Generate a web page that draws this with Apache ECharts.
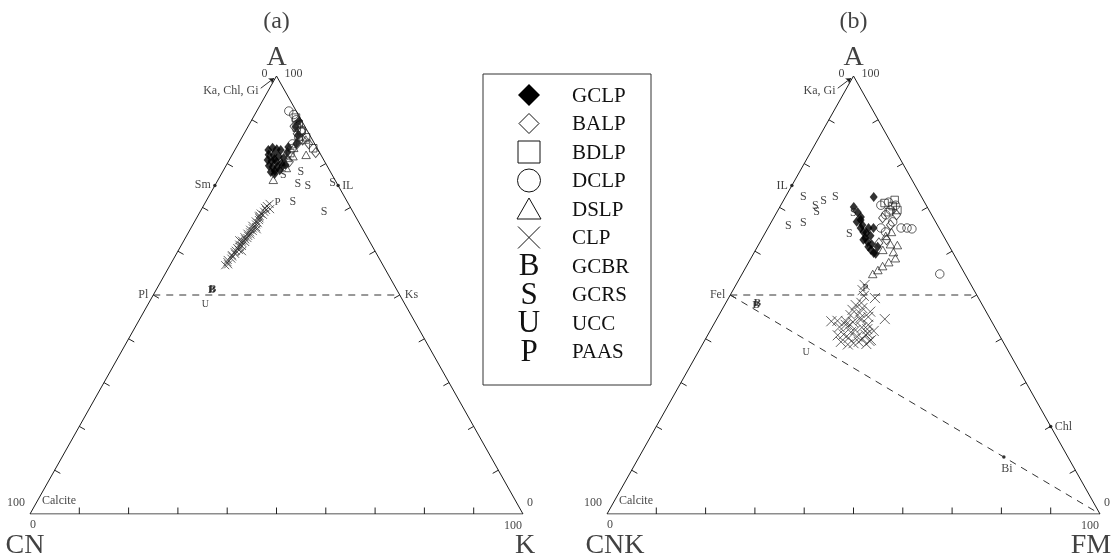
<!DOCTYPE html>
<html>
<head>
<meta charset="utf-8">
<script src="https://cdn.jsdelivr.net/npm/echarts@6/dist/echarts.min.js"></script>
<style>
  html, body { margin: 0; padding: 0; background: #fff; }
  #chart { width: 1120px; height: 555px; }
</style>
</head>
<body>
<div id="chart"></div>
<script>
// Compositions in percent. Plot (a): [A, CN, K]; plot (b): [A, CNK, FM].

// ---- (a) A–CN–K ----
const gclpA = [[83.1,10.1,6.8],[83.6,9.0,7.4],[83.3,8.3,8.4],[83.1,7.6,9.3],[82.0,10.6,7.4],[82.0,9.6,8.4],[81.7,8.7,9.6],[81.3,7.9,10.8],[80.8,11.4,7.8],[80.6,10.7,8.7],[80.4,9.8,9.8],[80.1,8.9,11.0],[79.5,11.8,8.7],[79.2,11.2,9.6],[79.2,10.2,10.6],[79.5,9.0,11.5],[78.1,12.1,9.8],[78.3,11.2,10.5],[78.5,10.1,11.4],[79.7,8.3,12.0],[88.4,1.9,9.7],[86.5,2.4,11.1],[89.7,0.6,9.7],[83.8,5.7,10.5],[82.6,6.5,10.9],[81.0,9.9,9.1],[77.6,11.6,10.8],[84.6,3.6,11.8]];
const balpA = [[88.5,2.2,9.3],[86.8,2.4,10.8],[84.5,1.2,14.3],[82.5,0.8,16.7],[84.5,3.6,11.9],[80.4,7.2,12.4],[87.6,1.0,11.4],[85.4,2.0,12.6]];
const bdlpA = [[89.0,1.0,10.0],[87.5,1.2,11.3],[86.0,1.0,13.0],[83.5,0.8,15.7],[90.5,0.8,8.7],[82.4,6.0,11.6],[88.2,1.8,10.0]];
const dclpA = [[92.0,1.5,6.5],[90.0,1.0,9.0],[86.0,2.5,11.5],[84.5,4.5,11.0],[83.4,5.2,11.4],[91.2,0.9,7.9],[87.2,1.4,11.4]];
const dslpA = [[85.5,1.3,13.2],[86.2,2.3,11.5],[80.1,8.3,11.6],[81.3,7.1,11.6],[83.6,4.7,11.7],[79.0,8.5,12.5],[81.7,5.8,12.5],[76.3,12.5,11.2],[82.0,3.0,15.0]];
const clpA = [[57.5,31.2,11.3],[58.0,30.9,11.1],[58.3,30.0,11.7],[58.8,29.6,11.6],[59.1,29.5,11.4],[59.4,28.7,11.9],[59.8,28.6,11.6],[60.1,28.2,11.7],[60.3,27.5,12.2],[60.7,27.6,11.7],[61.0,27.0,12.0],[61.2,26.4,12.4],[61.5,26.8,11.7],[61.9,26.0,12.1],[62.1,25.3,12.6],[62.4,25.8,11.8],[62.7,25.0,12.3],[63.0,24.4,12.6],[63.2,24.9,11.9],[63.5,24.0,12.5],[63.8,23.4,12.8],[64.0,23.9,12.1],[64.3,23.2,12.5],[64.6,22.5,12.9],[64.9,22.9,12.2],[65.2,22.2,12.6],[65.5,21.4,13.1],[65.8,22.0,12.2],[66.1,21.1,12.8],[66.4,20.6,13.0],[66.8,20.8,12.4],[67.1,20.0,12.9],[67.5,19.7,12.8],[67.9,19.6,12.5],[68.3,18.6,13.1],[68.6,18.9,12.5],[69.0,18.0,13.0],[69.4,17.4,13.2],[69.9,17.4,12.7],[70.3,16.8,12.9],[70.8,16.0,13.2],[57.0,31.3,11.7],[56.8,32.0,11.2],[69.6,16.5,13.9],[68.1,19.4,12.5],[65.0,21.5,13.5],[60.0,27.0,13.0],[62.5,26.3,11.2]];
const gcbrA = [[51.1,37.6,11.3],[51.3,37.3,11.4]];
const gcrsA = [[77.4,9.9,12.7],[78.1,6.0,15.9],[75.3,8.0,16.7],[74.9,6.2,18.9],[71.2,11.1,17.7],[68.9,5.9,25.2],[75.6,0.8,23.6]];
const uccA = [[47.9,40.5,11.6]];
const paasA = [[71.2,14.2,14.6]];
// mineral reference points on (a)
const mineralsA = [
  { name: 'Sm', comp: [75, 25, 0] },
  { name: 'IL', comp: [75, 0, 25] },
  { name: 'Pl', comp: [50, 50, 0] },
  { name: 'Ks', comp: [50, 0, 50] }
];

// ---- (b) A–CNK–FM ----
const gclpB = [[72.4,9.7,17.9],[70.1,14.9,15.0],[68.9,14.7,16.4],[65.3,13.3,21.4],[67.1,15.0,17.9],[66.0,15.2,18.8],[64.4,15.8,19.8],[63.0,16.1,20.9],[62.6,16.7,20.7],[62.1,16.1,21.8],[61.0,16.5,22.5],[60.3,16.3,23.4],[59.6,16.1,24.3],[59.4,15.8,24.8],[64.2,15.3,20.5],[65.3,15.9,18.8],[65.3,14.3,20.4],[61.0,14.6,24.4],[66.7,16.0,17.3],[61.6,15.5,22.9],[67.8,14.6,17.6],[63.5,14.8,21.7]];
const balpB = [[67.6,10.3,22.1],[66.0,9.5,24.5],[68.3,7.1,24.6],[62.6,12.0,25.4],[61.9,13.9,24.2]];
const bdlpB = [[71.0,8.2,20.8],[70.3,6.9,22.8],[69.4,6.4,24.2],[68.9,8.4,22.7],[71.7,5.8,22.5]];
const dclpB = [[70.5,9.2,20.3],[71.2,7.3,21.5],[70.5,6.2,23.3],[68.3,9.3,22.4],[66.7,8.7,24.6],[65.3,11.8,22.9],[65.3,7.7,27.0],[65.3,6.5,28.2],[65.1,5.6,29.3],[54.8,5.1,40.1],[64.4,11.3,24.3],[69.4,7.8,22.8]];
const dslpB = [[63.5,11.7,24.8],[61.6,11.7,26.7],[59.8,12.0,28.2],[58.4,12.3,29.3],[57.5,14.1,28.4],[56.6,15.8,27.6],[55.7,17.2,27.1],[54.8,18.7,26.5],[61.4,10.4,28.2],[60.3,13.9,25.8],[64.4,10.1,25.5]];
const clpB = [[45.4,27.9,26.7],[44.3,26.4,29.3],[42.0,28.6,29.4],[40.9,27.1,32.0],[40.2,30.9,28.9],[39.3,29.3,31.4],[39.7,26.6,33.7],[43.2,30.0,26.8],[43.2,25.4,31.4],[39.3,32.9,27.8],[44.1,31.2,24.7],[44.5,21.4,34.1],[49.3,21.0,29.7],[52.3,21.6,26.1],[51.1,22.6,26.3],[47.7,25.7,26.6],[47.0,24.7,28.3],[46.6,26.9,26.5],[41.5,29.8,28.7],[42.6,27.0,30.4],[40.5,29.0,30.5],[41.0,31.5,27.5],[43.8,28.2,28.0],[44.8,26.2,29.0],[45.9,25.8,28.3],[42.2,26.1,31.7],[40.0,28.2,31.8],[39.0,30.5,30.5],[38.8,28.0,33.2],[41.8,25.0,33.2],[43.0,29.5,27.5],[44.0,29.5,26.5],[45.0,24.5,30.5],[46.2,23.5,30.3],[48.2,24.3,27.5],[49.8,23.0,27.2],[38.7,31.8,29.5],[40.8,32.8,26.4],[39.5,27.0,33.5],[42.7,31.5,25.8],[44.0,32.5,23.5],[41.2,26.5,32.3]];
const gcbrB = [[47.7,45.9,6.4],[48.2,45.4,6.4]];
const gcrsB = [[72.4,24.0,3.6],[71.5,20.3,8.2],[72.4,17.5,10.1],[70.3,22.6,7.1],[69.0,23.0,8.0],[65.8,30.3,3.9],[66.4,27.0,6.6],[63.9,18.9,17.2],[68.7,15.7,15.6]];
const uccB = [[37.0,41.1,21.9]];
const paasB = [[51.6,21.8,26.6]];
const mineralsB = [
  { name: 'IL', comp: [75, 25, 0] },
  { name: 'Fel', comp: [50, 50, 0] },
  { name: 'Chl', comp: [20, 0, 80] },
  { name: 'Bi', comp: [13, 13, 74] }
];

// legend entries, in drawing order
const legendNames = ['GCLP', 'BALP', 'BDLP', 'DCLP', 'DSLP', 'CLP', 'GCBR', 'GCRS', 'UCC', 'PAAS'];
const tickSteps = [10, 20, 30, 40, 50, 60, 70, 80, 90];

const FONT = 'Liberation Serif';
const INK = '#111';

// [A, left component, right component] -> cartesian (x along the base, y = A)
function toXY(p) { return [p[2] + p[0] / 2, p[0]]; }

const chart = echarts.init(document.getElementById('chart'), null, { renderer: 'canvas' });

const grids = [
  { left: 30, top: 76, width: 493, height: 438 },
  { left: 607, top: 76, width: 493, height: 438 }
];
const axisBase = { type: 'value', min: 0, max: 100, show: false };

// short inward tick, perpendicular to its edge
function tickRender(params, api) {
  const p = api.coord([api.value(0), api.value(1)]);
  const e = api.value(2);
  const v0 = api.coord([0, 0]), v1 = api.coord([100, 0]), v2 = api.coord([50, 100]);
  let a, b;
  if (e === 0) { a = v0; b = v1; } else if (e === 1) { a = v0; b = v2; } else { a = v2; b = v1; }
  let dx = b[0] - a[0], dy = b[1] - a[1];
  const len = Math.hypot(dx, dy); dx /= len; dy /= len;
  let nx = -dy, ny = dx;
  const c = [(v0[0] + v1[0] + v2[0]) / 3, (v0[1] + v1[1] + v2[1]) / 3];
  if ((c[0] - p[0]) * nx + (c[1] - p[1]) * ny < 0) { nx = -nx; ny = -ny; }
  const L = 6.5;
  return {
    type: 'line',
    shape: { x1: p[0], y1: p[1], x2: p[0] + nx * L, y2: p[1] + ny * L },
    style: { stroke: '#222', lineWidth: 1 }
  };
}

function tickData() {
  const d = [];
  tickSteps.forEach(v => {
    d.push([v, 0, 0]);            // base
    d.push([v / 2, v, 1]);        // left edge
    d.push([100 - v / 2, v, 2]);  // right edge
  });
  return d;
}

const series = [];

function addFrame(g) {
  const apex = [50, 100];
  series.push({
    type: 'line', xAxisIndex: g, yAxisIndex: g, silent: true, symbol: 'none',
    data: [[0, 0], [100, 0], apex, [0, 0]],
    lineStyle: { color: '#1a1a1a', width: 1 },
    markLine: {
      silent: true, symbol: ['none', 'arrow'], symbolSize: 5,
      label: { show: false },
      lineStyle: { color: '#1a1a1a', width: 0.9, type: 'solid' },
      data: [[{ coord: [apex[0] - 3.2, apex[1] - 2.8] }, { coord: [apex[0] - 0.5, apex[1] - 0.5] }]]
    }
  });
  series.push({
    type: 'custom', xAxisIndex: g, yAxisIndex: g, silent: true, clip: false,
    renderItem: tickRender, data: tickData()
  });
}

function addDashed(g, from, to) {
  series.push({
    type: 'line', xAxisIndex: g, yAxisIndex: g, silent: true, symbol: 'none',
    data: [toXY(from), toXY(to)],
    lineStyle: { color: '#333', width: 1, type: [7, 6] }
  });
}

function addShape(g, pts, opt) {
  series.push(Object.assign({
    type: 'scatter', xAxisIndex: g, yAxisIndex: g, silent: true, clip: false,
    data: pts.map(toXY)
  }, opt));
}

const openStyle = { color: 'rgba(255,255,255,0)', borderColor: '#222', borderWidth: 0.9 };

function addLetters(g, pts, letter, size, bold) {
  series.push({
    type: 'scatter', xAxisIndex: g, yAxisIndex: g, silent: true, clip: false,
    symbolSize: 1, itemStyle: { color: 'rgba(0,0,0,0)' },
    data: pts.map(toXY),
    label: {
      show: true, position: 'inside', formatter: letter,
      fontFamily: FONT, fontSize: size, color: INK, fontWeight: bold ? 'bold' : 'normal'
    }
  });
}

function addPoints(g, set) {
  addShape(g, set.clp, {
    symbol: 'path://M0,0L10,10M10,0L0,10', symbolSize: set.xSize,
    itemStyle: { color: 'rgba(0,0,0,0)', borderColor: '#262626', borderWidth: 0.9 }
  });
  addShape(g, set.gclp, { symbol: 'diamond', symbolSize: [8, 10], itemStyle: { color: '#000' } });
  addShape(g, set.balp, { symbol: 'diamond', symbolSize: [8, 10], itemStyle: openStyle });
  addShape(g, set.bdlp, { symbol: 'rect', symbolSize: 7.5, itemStyle: openStyle });
  addShape(g, set.dclp, { symbol: 'circle', symbolSize: 8.5, itemStyle: openStyle });
  addShape(g, set.dslp, { symbol: 'triangle', symbolSize: [8.5, 7.5], itemStyle: openStyle });
  addLetters(g, set.gcbr, 'B', 11, true);
  addLetters(g, set.gcrs, 'S', 12, false);
  addLetters(g, set.ucc, 'U', 10, false);
  addLetters(g, set.paas, 'P', 11, false);
}

function lbl(xy, text, size, align, offset) {
  return {
    value: xy,
    label: {
      show: true, position: 'inside', formatter: text, fontFamily: FONT, fontSize: size,
      color: INK, align: align, verticalAlign: 'middle', offset: offset
    }
  };
}

function addLabels(g, items) {
  series.push({
    type: 'scatter', xAxisIndex: g, yAxisIndex: g, silent: true, clip: false,
    symbolSize: 1, itemStyle: { color: 'rgba(0,0,0,0)' }, data: items
  });
}

function addMinerals(g, list) {
  series.push({
    type: 'scatter', xAxisIndex: g, yAxisIndex: g, silent: true, clip: false,
    symbol: 'circle', symbolSize: 3.5, itemStyle: { color: '#000' },
    data: list.filter(m => m.comp[0] !== 50).map(m => toXY(m.comp))
  });
}

function cornerLabels(title, topNames, leftName, rightName) {
  const apex = [50, 100], lv = [0, 0], rv = [100, 0];
  return [
    lbl(apex, title, 24, 'center', [0, -54]),
    lbl(apex, 'A', 28, 'center', [0, -18]),
    lbl(apex, '0', 12, 'right', [-9, -2]),
    lbl(apex, '100', 12, 'left', [8, -2]),
    lbl(apex, topNames, 12, 'right', [-18, 15]),
    lbl(lv, '100', 12, 'right', [-5, -11]),
    lbl(lv, 'Calcite', 12, 'left', [12, -13]),
    lbl(lv, '0', 12, 'center', [3, 11]),
    lbl(rv, '100', 12, 'center', [-10, 12]),
    lbl(rv, '0', 12, 'left', [4, -11]),
    lbl(lv, leftName, 28, 'center', [leftName.length > 2 ? 8 : -5, 32]),
    lbl(rv, rightName, 28, 'center', [rightName.length > 1 ? -9 : 2, 32])
  ];
}

// ---- plot (a) ----
addFrame(0);
addDashed(0, mineralsA[2].comp, mineralsA[3].comp);
addMinerals(0, mineralsA);
addPoints(0, { gclp: gclpA, balp: balpA, bdlp: bdlpA, dclp: dclpA, dslp: dslpA, clp: clpA,
  gcbr: gcbrA, gcrs: gcrsA, ucc: uccA, paas: paasA, xSize: 8 });
addLabels(0, cornerLabels('(a)', 'Ka, Chl, Gi', 'CN', 'K').concat([
  lbl(toXY(mineralsA[0].comp), 'Sm', 12, 'right', [-4, -1]),
  lbl(toXY(mineralsA[1].comp), 'IL', 12, 'left', [4, 0]),
  lbl(toXY(mineralsA[2].comp), 'Pl', 12, 'right', [-5, 0]),
  lbl(toXY(mineralsA[3].comp), 'Ks', 12, 'left', [5, 0])
]));

// ---- plot (b) ----
addFrame(1);
addDashed(1, mineralsB[1].comp, [50, 0, 50]);
addDashed(1, mineralsB[1].comp, [0, 0, 100]);
addMinerals(1, mineralsB);
addPoints(1, { gclp: gclpB, balp: balpB, bdlp: bdlpB, dclp: dclpB, dslp: dslpB, clp: clpB,
  gcbr: gcbrB, gcrs: gcrsB, ucc: uccB, paas: paasB, xSize: 10 });
addLabels(1, cornerLabels('(b)', 'Ka, Gi', 'CNK', 'FM').concat([
  lbl(toXY(mineralsB[0].comp), 'IL', 12, 'right', [-4, 0]),
  lbl(toXY(mineralsB[1].comp), 'Fel', 12, 'right', [-5, 0]),
  lbl(toXY(mineralsB[2].comp), 'Chl', 12, 'left', [4, 0]),
  lbl(toXY(mineralsB[3].comp), 'Bi', 12, 'center', [3, 12])
]));

// ---- legend box ----
const LG = { x: 483, y: 74, w: 168, h: 311, row0: 95, step: 28.5, symX: 529, textX: 572 };
const legendChildren = [{
  type: 'rect', shape: { x: LG.x, y: LG.y, width: LG.w, height: LG.h },
  style: { fill: '#fff', stroke: '#333', lineWidth: 1 }
}];
const line = { stroke: '#111', lineWidth: 1, fill: null };
legendNames.forEach((name, i) => {
  const cy = LG.row0 + i * LG.step, cx = LG.symX;
  let sym;
  if (i === 0) sym = { type: 'polygon', shape: { points: [[cx, cy - 11], [cx + 11, cy], [cx, cy + 11], [cx - 11, cy]] }, style: { fill: '#000' } };
  else if (i === 1) sym = { type: 'polygon', shape: { points: [[cx, cy - 10], [cx + 10, cy], [cx, cy + 10], [cx - 10, cy]] }, style: line };
  else if (i === 2) sym = { type: 'rect', shape: { x: cx - 11, y: cy - 11, width: 22, height: 22 }, style: line };
  else if (i === 3) sym = { type: 'circle', shape: { cx: cx, cy: cy, r: 11.5 }, style: line };
  else if (i === 4) sym = { type: 'polygon', shape: { points: [[cx, cy - 11], [cx + 12, cy + 10], [cx - 12, cy + 10]] }, style: line };
  else if (i === 5) sym = { type: 'group', children: [
    { type: 'line', shape: { x1: cx - 11, y1: cy - 11, x2: cx + 11, y2: cy + 11 }, style: line },
    { type: 'line', shape: { x1: cx + 11, y1: cy - 11, x2: cx - 11, y2: cy + 11 }, style: line }
  ] };
  else sym = { type: 'text', x: cx, y: cy + 1, style: { text: 'BSUP'[i - 6], font: '31px "' + FONT + '"', fill: INK, align: 'center', verticalAlign: 'middle' } };
  legendChildren.push(sym);
  legendChildren.push({ type: 'text', x: LG.textX, y: cy + 1,
    style: { text: name, font: '21px "' + FONT + '"', fill: INK, align: 'left', verticalAlign: 'middle' } });
});

chart.setOption({
  animation: false,
  backgroundColor: '#fff',
  grid: grids,
  xAxis: [Object.assign({ gridIndex: 0 }, axisBase), Object.assign({ gridIndex: 1 }, axisBase)],
  yAxis: [Object.assign({ gridIndex: 0 }, axisBase), Object.assign({ gridIndex: 1 }, axisBase)],
  series: series,
  graphic: [{ type: 'group', silent: true, children: legendChildren }]
});
</script>
</body>
</html>
